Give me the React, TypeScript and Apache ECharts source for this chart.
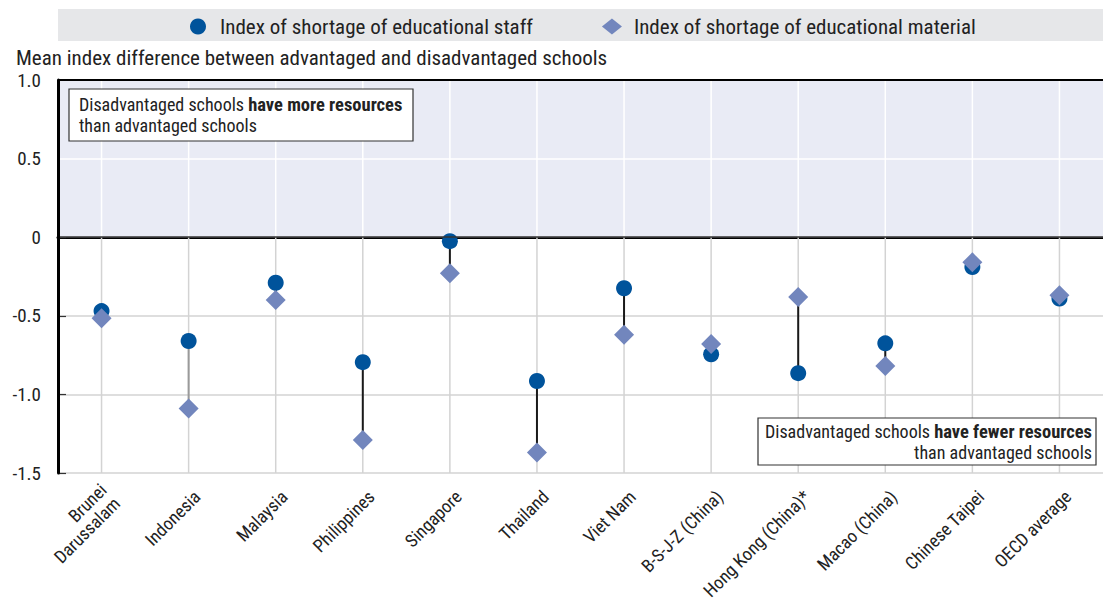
import React, { useEffect, useRef } from "react";
import * as echarts from "echarts";

const categories = [
  "Brunei\nDarussalam",
  "Indonesia",
  "Malaysia",
  "Philippines",
  "Singapore",
  "Thailand",
  "Viet Nam",
  "B-S-J-Z (China)",
  "Hong Kong (China)*",
  "Macao (China)",
  "Chinese Taipei",
  "OECD average",
];
const staffShortage = [-0.47, -0.66, -0.29, -0.795, -0.025, -0.915, -0.325, -0.745, -0.865, -0.675, -0.19, -0.39];
const materialShortage = [-0.515, -1.09, -0.4, -1.29, -0.23, -1.37, -0.62, -0.68, -0.38, -0.82, -0.16, -0.37];
const significantGap = [true, false, true, true, true, true, true, true, true, true, true, true];
const yMin = -1.5;
const yMax = 1.0;
const yStep = 0.5;

const STAFF = "Index of shortage of educational staff";
const MATERIAL = "Index of shortage of educational material";
const FONT = "'Liberation Sans Narrow', 'Arial Narrow', 'Roboto Condensed', Roboto, sans-serif";

export default function App() {
  const ref = useRef<HTMLDivElement>(null);
  useEffect(() => {
    document.body.style.margin = "0";
    const chart = echarts.init(ref.current!, null, { renderer: "svg" });
    const idx = categories.map((_, i) => i);
    const boxText = (text: string, x: number, y: number, align: string) => ({
      type: "text",
      z: 101,
      x,
      y,
      style: {
        text,
        fontFamily: FONT,
        fontSize: 18,
        lineHeight: 20.5,
        fill: "#222",
        align,
        rich: { b: { fontFamily: FONT, fontSize: 18.5, fontWeight: "bold", fill: "#222", lineHeight: 20.5 } },
      },
    });
    chart.setOption({
      animation: false,
      textStyle: { fontFamily: FONT },
      title: {
        text: "Mean index difference between advantaged and disadvantaged schools",
        left: 16,
        top: 47,
        padding: 0,
        textStyle: { fontFamily: FONT, fontSize: 21, fontWeight: "normal", color: "#222" },
      },
      graphic: [
        {
          type: "rect",
          z: -10,
          shape: { x: 58, y: 9, width: 1045, height: 32 },
          style: { fill: "#e6e7e9" },
        },
        {
          type: "rect",
          z: 100,
          shape: { x: 69, y: 89, width: 344, height: 52 },
          style: { fill: "#fff", stroke: "#333", lineWidth: 1.2 },
        },
        boxText("Disadvantaged schools {b|have more resources}\nthan advantaged schools", 79, 94.5, "left"),
        {
          type: "rect",
          z: 100,
          shape: { x: 758, y: 418, width: 338, height: 47 },
          style: { fill: "#fff", stroke: "#333", lineWidth: 1.2 },
        },
        boxText("Disadvantaged schools {b|have fewer resources}\nthan advantaged schools", 1092, 421.5, "right"),
      ],
      legend: {
        left: 190,
        top: 16,
        padding: 0,
        itemGap: 69,
        itemWidth: 20,
        itemHeight: 16,
        data: [STAFF, MATERIAL],
        textStyle: { fontFamily: FONT, fontSize: 21, color: "#222", padding: [0, 0, 0, 7] },
      },
      grid: { left: 58, right: -9, top: 80, bottom: 137 },
      xAxis: {
        type: "category",
        data: categories,
        axisLine: { show: true, lineStyle: { color: "#000", width: 3 } },
        axisTick: { show: false },
        splitLine: { show: false },
        axisLabel: {
          interval: 0,
          rotate: 45,
          margin: 29,
          padding: [0, -12, 0, 0],
          fontFamily: FONT,
          fontSize: 18,
          lineHeight: 19,
          color: "#222",
        },
      },
      yAxis: [
        {
          type: "value",
          min: yMin,
          max: yMax,
          interval: yStep,
          axisLine: { show: false },
          axisTick: { show: true, inside: true, length: 8, lineStyle: { color: "#333", width: 1.2 } },
          splitLine: { show: true, lineStyle: { color: "#d3d3d3", width: 1.5 } },
          axisLabel: {
            margin: 17,
            fontFamily: FONT,
            fontSize: 19,
            color: "#222",
            formatter: (v: number) => (v === 0 ? "0" : v.toFixed(1)),
          },
        },
        {
          type: "value",
          min: yMin,
          max: yMax,
          interval: yStep,
          position: "left",
          offset: 0,
          z: 10,
          axisLine: { show: true, lineStyle: { color: "#000", width: 3 } },
          axisTick: { show: false },
          axisLabel: { show: false },
          splitLine: { show: false },
        },
      ],
      series: [
        {
          name: "shade",
          type: "line",
          data: [],
          z: 1,
          silent: true,
          markArea: {
            silent: true,
            itemStyle: { color: "#e9ebf5" },
            data: [[{ yAxis: 0 }, { yAxis: yMax }]],
          },
        },
        {
          name: "grid-lines",
          type: "custom",
          z: 1.5,
          silent: true,
          data: idx.map((i) => [i]),
          encode: { x: 0 },
          renderItem: (params: any, api: any) => {
            const i = api.value(0);
            const bottom = api.coord([i, yMin]);
            const zero = api.coord([i, 0]);
            const top = api.coord([i, yMax]);
            return {
              type: "group",
              children: [
                {
                  type: "line",
                  shape: { x1: bottom[0], y1: bottom[1], x2: zero[0], y2: zero[1] },
                  style: { stroke: "#d3d3d3", lineWidth: 1.5 },
                },
                {
                  type: "line",
                  shape: { x1: zero[0], y1: zero[1], x2: top[0], y2: top[1] },
                  style: { stroke: "#ffffff", lineWidth: 1.5 },
                },
              ],
            };
          },
          markLine: {
            silent: true,
            symbol: "none",
            label: { show: false },
            lineStyle: { color: "#ffffff", width: 1.5, type: "solid" },
            data: [{ yAxis: 0.5 }],
          },
        },
        {
          name: "connectors",
          type: "custom",
          z: 2,
          silent: true,
          data: idx.map((i) => [i, staffShortage[i], materialShortage[i], significantGap[i] ? 1 : 0]),
          encode: { x: 0, y: [1, 2] },
          renderItem: (params: any, api: any) => {
            const i = api.value(0);
            const a = api.coord([i, api.value(1)]);
            const b = api.coord([i, api.value(2)]);
            const sig = api.value(3) === 1;
            return {
              type: "line",
              shape: { x1: a[0], y1: a[1], x2: b[0], y2: b[1] },
              style: { stroke: sig ? "#1a1a1a" : "#9a9a9a", lineWidth: 2 },
            };
          },
          markLine: {
            silent: true,
            symbol: "none",
            label: { show: false },
            data: [
              { yAxis: 0, lineStyle: { color: "#333", width: 1.5, type: "solid" } },
              { yAxis: yMax, lineStyle: { color: "#000", width: 2, type: "solid" } },
            ],
          },
        },
        {
          name: STAFF,
          type: "scatter",
          z: 3,
          symbol: "circle",
          symbolSize: 16,
          itemStyle: { color: "#00539b", opacity: 1 },
          data: staffShortage,
        },
        {
          name: MATERIAL,
          type: "scatter",
          z: 4,
          symbol: "diamond",
          symbolSize: 20,
          itemStyle: { color: "#7286bd", opacity: 1 },
          data: materialShortage,
        },
      ],
    });
    return () => chart.dispose();
  }, []);
  return <div ref={ref} style={{ width: 1103, height: 610 }} />;
}
